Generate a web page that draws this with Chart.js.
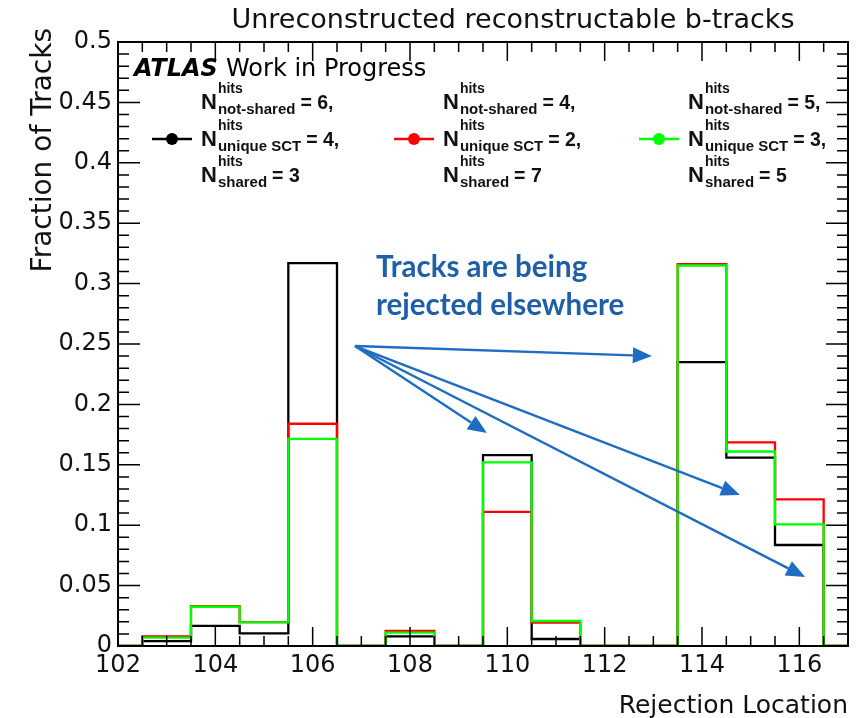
<!DOCTYPE html>
<html>
<head>
<meta charset="utf-8">
<script src="https://cdn.jsdelivr.net/npm/chart.js@4.4.1/dist/chart.umd.min.js"></script>
<style>
  html, body { margin: 0; padding: 0; background: #fff; }
  canvas { display: block; }
</style>
</head>
<body>
<canvas id="histo" width="868" height="718"></canvas>
<script>
// bin centres of the rejection-location histogram (unit-width bins)
const binCenters = [103, 104, 105, 106, 107, 108, 109, 110, 111, 112, 113, 114, 115, 116];
const fracBlack = [0.004, 0.0166, 0.0105, 0.317, 0, 0.008, 0, 0.158, 0.0058, 0, 0, 0.235, 0.156, 0.0836];
const fracRed   = [0.008, 0.033, 0.0198, 0.184, 0, 0.0124, 0, 0.111, 0.0193, 0, 0, 0.316, 0.1686, 0.1214];
const fracGreen = [0.007, 0.0325, 0.0196, 0.1715, 0, 0.011, 0, 0.152, 0.0207, 0, 0, 0.315, 0.161, 0.1007];

const xMin = 102, xMax = 117;
const yMin = 0, yMax = 0.5;

// hit requirements per selection, one entry per series
const seriesColors = ['#000000', '#ff0000', '#00ff00'];
const notSharedHits = [6, 4, 5];
const uniqueSctHits = [4, 2, 3];
const sharedHits = [3, 7, 5];

// annotation arrows, in axis units: common tail and the four heads
const arrowTail = { x: 106.87, y: 0.2483 };
const arrowHeads = [
  { x: 112.97, y: 0.2401 },
  { x: 109.58, y: 0.1763 },
  { x: 114.78, y: 0.125 },
  { x: 116.12, y: 0.0571 }
];
const noteLines = ['Tracks are being', 'rejected elsewhere'];

const ROOT_FONT = '"DejaVu Sans"';

// histogram outline: flat at zero up to the first bin, one step per bin
function stepPoints(vals) {
  const pts = [{ x: xMin, y: 0 }];
  binCenters.forEach((c, i) => pts.push({ x: c - 0.5, y: vals[i] }));
  pts.push({ x: binCenters[binCenters.length - 1] + 0.5, y: 0 });
  pts.push({ x: xMax, y: 0 });
  return pts;
}

function histDataset(vals, color, order) {
  return {
    data: stepPoints(vals),
    borderColor: color,
    borderWidth: 2.3,
    stepped: true,
    pointRadius: 0,
    fill: false,
    order: order,
    borderJoinStyle: 'miter'
  };
}

// frame with inward ticks on all four sides
const frameTicks = {
  id: 'frameTicks',
  afterDatasetsDraw(chart) {
    const { ctx, chartArea: a, scales } = chart;
    const xs = scales.x, ys = scales.y;
    ctx.save();
    ctx.strokeStyle = '#000';
    ctx.lineWidth = 1.5;
    ctx.beginPath();
    for (let i = 0; i <= (xMax - xMin) * 2; i++) {
      const v = xMin + i * 0.5;
      const px = xs.getPixelForValue(v);
      const len = (v % 2 === 0) ? 19 : 10;
      ctx.moveTo(px, a.bottom); ctx.lineTo(px, a.bottom - len);
      ctx.moveTo(px, a.top); ctx.lineTo(px, a.top + len);
    }
    for (let i = 0; i <= 50; i++) {
      const py = ys.getPixelForValue(i / 100);
      const len = (i % 5 === 0) ? 22 : 11;
      ctx.moveTo(a.left, py); ctx.lineTo(a.left + len, py);
      ctx.moveTo(a.right, py); ctx.lineTo(a.right - len, py);
    }
    ctx.stroke();
    ctx.lineWidth = 2;
    ctx.strokeRect(a.left, a.top, a.right - a.left, a.bottom - a.top);
    ctx.restore();
  }
};

function drawHitsLabel(ctx, x, base, sub, value) {
  ctx.font = 'bold 22px "Liberation Sans"';
  ctx.fillText('N', x, base);
  const sx = x + ctx.measureText('N').width + 1;
  ctx.font = 'bold 14px "Liberation Sans"';
  ctx.fillText('hits', sx, base - 16);
  const hw = ctx.measureText('hits').width;
  ctx.font = 'bold 15px "Liberation Sans"';
  ctx.fillText(sub, sx, base + 5);
  const sw = Math.max(hw, ctx.measureText(sub).width);
  ctx.font = 'bold 19.5px "Liberation Sans"';
  ctx.fillText(value, sx + sw + 5, base);
}

function drawArrow(ctx, x0, y0, x1, y1) {
  const ang = Math.atan2(y1 - y0, x1 - x0);
  const headLen = 19, headHalf = 8;
  const bx = x1 - headLen * Math.cos(ang), by = y1 - headLen * Math.sin(ang);
  ctx.beginPath();
  ctx.moveTo(x0, y0);
  ctx.lineTo(bx, by);
  ctx.stroke();
  ctx.beginPath();
  ctx.moveTo(x1, y1);
  ctx.lineTo(bx + headHalf * Math.sin(ang), by - headHalf * Math.cos(ang));
  ctx.lineTo(bx - headHalf * Math.sin(ang), by + headHalf * Math.cos(ang));
  ctx.closePath();
  ctx.fill();
}

// titles, ATLAS label, legend and the blue note with arrows
const decorations = {
  id: 'decorations',
  afterDraw(chart) {
    const { ctx, chartArea: a, scales } = chart;
    ctx.save();
    ctx.fillStyle = '#111';
    ctx.textBaseline = 'alphabetic';

    ctx.font = '27px ' + ROOT_FONT;
    ctx.textAlign = 'center';
    ctx.fillText('Unreconstructed reconstructable b-tracks', 513, 28);

    ctx.font = '25px ' + ROOT_FONT;
    ctx.textAlign = 'right';
    ctx.fillText('Rejection Location', a.right, 713);

    ctx.save();
    ctx.translate(51, 28);
    ctx.rotate(-Math.PI / 2);
    ctx.font = '28px ' + ROOT_FONT;
    ctx.fillText('Fraction of Tracks', 0, 0);
    ctx.restore();

    ctx.textAlign = 'left';
    ctx.fillStyle = '#000';
    ctx.font = 'italic bold 24px ' + ROOT_FONT;
    ctx.fillText('ATLAS', 134, 76);
    ctx.font = '24px ' + ROOT_FONT;
    ctx.fillText('Work in Progress', 226, 76);

    // legend: marker line + dot, three lines of hit counts per entry
    const colX = [201, 443, 688];
    const rowBase = [109, 146, 182];
    const markerY = 139;
    for (let i = 0; i < seriesColors.length; i++) {
      const mx = colX[i] - 29;
      ctx.strokeStyle = seriesColors[i];
      ctx.fillStyle = seriesColors[i];
      ctx.lineWidth = 2.3;
      ctx.beginPath();
      ctx.moveTo(mx - 20, markerY); ctx.lineTo(mx + 20, markerY);
      ctx.stroke();
      ctx.beginPath();
      ctx.arc(mx, markerY, 6, 0, Math.PI * 2);
      ctx.fill();

      ctx.fillStyle = '#111';
      drawHitsLabel(ctx, colX[i], rowBase[0], 'not-shared', '= ' + notSharedHits[i] + ',');
      drawHitsLabel(ctx, colX[i], rowBase[1], 'unique SCT', '= ' + uniqueSctHits[i] + ',');
      drawHitsLabel(ctx, colX[i], rowBase[2], 'shared', '= ' + sharedHits[i]);
    }

    // note text
    const xs = scales.x, ys = scales.y;
    ctx.fillStyle = '#1f5fa8';
    ctx.font = 'bold 29.5px Lato';
    ctx.fillText(noteLines[0], xs.getPixelForValue(107.3), ys.getPixelForValue(0.3055));
    ctx.fillText(noteLines[1], xs.getPixelForValue(107.3), ys.getPixelForValue(0.2742));

    ctx.strokeStyle = '#1f6dc2';
    ctx.fillStyle = '#1f6dc2';
    ctx.lineWidth = 2.4;
    const tx = xs.getPixelForValue(arrowTail.x), ty = ys.getPixelForValue(arrowTail.y);
    arrowHeads.forEach(h => {
      drawArrow(ctx, tx, ty, xs.getPixelForValue(h.x), ys.getPixelForValue(h.y));
    });
    ctx.restore();
  }
};

const ctx = document.getElementById('histo').getContext('2d');
const histo = new Chart(ctx, {
  type: 'line',
  data: {
    datasets: [
      histDataset(fracBlack, seriesColors[0], 3),
      histDataset(fracRed, seriesColors[1], 2),
      histDataset(fracGreen, seriesColors[2], 1)
    ]
  },
  options: {
    responsive: false,
    animation: false,
    layout: { padding: { left: 0, right: 20, top: 42, bottom: 0 } },
    plugins: {
      legend: { display: false },
      tooltip: { enabled: false },
      title: { display: false }
    },
    scales: {
      x: {
        type: 'linear',
        min: xMin,
        max: xMax,
        grid: { display: false, drawTicks: false },
        border: { display: false },
        afterFit: s => { s.height = 72; },
        ticks: {
          stepSize: 2,
          includeBounds: false,
          maxRotation: 0,
          padding: 5,
          color: '#111',
          font: { family: 'DejaVu Sans', size: 24 }
        }
      },
      y: {
        min: yMin,
        max: yMax,
        grid: { display: false, drawTicks: false },
        border: { display: false },
        afterFit: s => { s.width = 118; },
        ticks: {
          stepSize: 0.05,
          includeBounds: false,
          padding: 6,
          color: '#111',
          font: { family: 'DejaVu Sans', size: 24 },
          callback: v => String(+v.toFixed(2))
        }
      }
    }
  },
  plugins: [frameTicks, decorations]
});
</script>
</body>
</html>
